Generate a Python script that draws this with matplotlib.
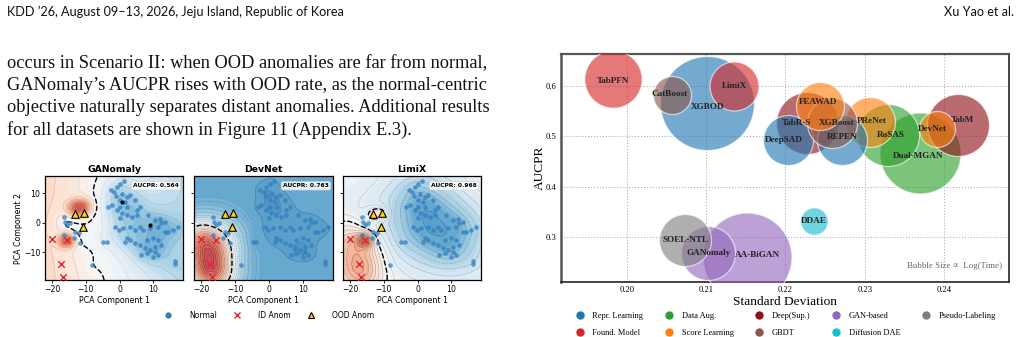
import numpy as np
import matplotlib
matplotlib.use("Agg")
import matplotlib.pyplot as plt
from matplotlib.lines import Line2D

# ---------------- data: left panels ----------------
normal_x = [-2.6, -1.6, -0.8, 0.2, 1.3, -1.0, 0.6, 2.1, 3.1, 1.6, 0.2, 4.6, 6.1, 5.1, 2.3, 0.2, -2.3, -3.3,
            -0.8, 0.6, 2.1, 3.6, 5.1, 0.0, 8.5, 10.5, 12.4, 13.4, 11.5, 9.0, 7.0, 6.1, 4.6, 3.1, 1.1, -0.3,
            -1.3, 17.4, 15.9, 13.4, 10.0, 8.0, 11.5, 12.4, 10.5, 9.0, 7.5, 6.1, 4.6, 3.1, 2.1, 10.5, 11.5,
            10.0, 16.4, 8.0, 6.5, -4.8, -3.8, -8.2, -16.6, -16.1, -15.6, -14.8, -16.6, -13.1, -12.1, -11.6,
            -13.6, 1.6, 12.0, 14.5, 16.5]
normal_y = [11.3, 10.5, 12.2, 13.3, 14.2, 9.0, 9.9, 8.8, 9.4, 7.1, 7.9, 7.7, 5.4, 4.3, 5.4, 5.4, 6.0, 5.4,
            4.3, 3.2, 2.6, 2.0, 2.6, 1.5, 2.6, 0.9, -0.2, 0.3, -1.4, -1.9, -2.5, -1.4, -2.5, -1.4, -1.9, -2.5,
            -1.4, -1.4, -2.5, -3.1, -5.3, -5.9, -5.9, -7.6, -8.1, -9.3, -8.7, -7.6, -7.0, -5.9, -5.3, -9.8,
            -11.0, -11.5, -13.8, -10.4, -11.0, -6.4, -6.4, -14.4, 2.0, 0.3, -0.8, -0.2, -4.2, -3.1, -3.6,
            -7.0, -5.3, -6.4, 1.2, -3.0, -13.0]
id_x = [-20.0, -15.6, -17.5, -16.9]
id_y = [-5.6, -5.9, -14.0, -18.3]
ood_x = [-13.1, -10.6, -10.9]
ood_y = [2.9, 3.5, -1.4]
flag_x = [0.6, 9.0]
flag_y = [7.1, -0.6]
panel_names = ["GANomaly", "DevNet", "LimiX"]
panel_aucpr = [0.564, 0.763, 0.968]

# ---------------- data: bubble chart ----------------
methods = ["TabPFN", "CatBoost", "XGBOD", "LimiX", "DeepSAD", "TabR-S", "FEAWAD", "XGBoost", "REPEN",
           "PReNet", "RoSAS", "DevNet", "TabM", "Dual-MGAN", "SOEL-NTL", "GANomaly", "AA-BiGAN", "DDAE"]
method_cat = ["Found. Model", "GBDT", "Repr. Learning", "Found. Model", "Repr. Learning", "Deep(Sup.)",
              "Score Learning", "GBDT", "Repr. Learning", "Score Learning", "Data Aug.", "Score Learning",
              "Deep(Sup.)", "Data Aug.", "Pseudo-Labeling", "GAN-based", "GAN-based", "Diffusion DAE"]
std_dev = [0.1983, 0.2057, 0.2101, 0.2135, 0.2203, 0.2227, 0.2244, 0.2259, 0.2271,
           0.2307, 0.2329, 0.2391, 0.2418, 0.2370, 0.2074, 0.2103, 0.2152, 0.2236]
aucpr = [0.614, 0.582, 0.566, 0.600, 0.492, 0.526, 0.560, 0.526, 0.492,
         0.528, 0.503, 0.514, 0.523, 0.4665, 0.2932, 0.2673, 0.2604, 0.3311]
bubble_size = [1708, 749, 4580, 1245, 1296, 1993, 1194, 1296, 1296,
               1296, 1993, 672, 1993, 3401, 1402, 1512, 4106, 389]
categories = ["Repr. Learning", "Found. Model", "Data Aug.", "Score Learning", "Deep(Sup.)", "GBDT",
              "GAN-based", "Diffusion DAE", "Pseudo-Labeling"]
cat_colors = {"Repr. Learning": "#1f77b4", "Found. Model": "#d62728", "Data Aug.": "#2ca02c",
              "Score Learning": "#ff7f0e", "Deep(Sup.)": "#8e1119", "GBDT": "#8c564b",
              "GAN-based": "#9467bd", "Diffusion DAE": "#17becf", "Pseudo-Labeling": "#7f7f7f"}
# label nudges (pixels, +x right, +y down)
label_dx = [0, -2, 1, 1, -4, -10, -2, 4, 1, 2, 3, -4, 4, -2, 0, 0, 10, 0]
label_dy = [2, -1, 4, 0, 0, 0, -4, 0, -3, -1, 0, 0, -5, 3, 0, 0, -2, 0]

W, H = 1021, 337
fig = plt.figure(figsize=(W / 100, H / 100), dpi=100)

def fx(px):
    return px / W

def fy(py):
    return 1 - py / H

# ---------------- page text ----------------
hdr_font = ["Lato", "DejaVu Sans"]
fig.text(fx(7), fy(16), "KDD \u201926, August 09\u201313, 2026, Jeju Island, Republic of Korea",
         family=hdr_font, fontsize=9.1, va="baseline", ha="left", color="#111")
fig.text(fx(1014), fy(16), "Xu Yao et al.", family=hdr_font, fontsize=9.1, va="baseline", ha="right",
         color="#111")
para = ["occurs in Scenario II: when OOD anomalies are far from normal,",
        "GANomaly\u2019s AUCPR rises with OOD rate, as the normal-centric",
        "objective naturally separates distant anomalies. Additional results",
        "for all datasets are shown in Figure 11 (Appendix E.3)."]
baselines = [68, 90.5, 112.5, 134.5]
for line, b in zip(para, baselines):
    fig.text(fx(7), fy(b), line, family=["Liberation Serif"], fontsize=13.25, va="baseline", ha="left",
             color="#111")

# ---------------- left panels ----------------
nx_arr = np.array(normal_x); ny_arr = np.array(normal_y)
ix_arr = np.array(id_x); iy_arr = np.array(id_y)
ox_arr = np.array(ood_x); oy_arr = np.array(ood_y)
xlim = (-22.1, 18.8)
ylim = (-19.4, 15.9)
gx = np.linspace(*xlim, 220)
gy = np.linspace(*ylim, 220)
GX, GY = np.meshgrid(gx, gy)

def kde(px, py, s):
    out = np.zeros_like(GX)
    for a, b in zip(px, py):
        out += np.exp(-((GX - a) ** 2 + (GY - b) ** 2) / (2 * s * s))
    return out / out.max()

Dn = kde(nx_arr, ny_arr, 2.2)
Dfar = kde(nx_arr, ny_arr, 5.0)
Dwide = kde(nx_arr, ny_arr, 7.0)
Did_one = kde(ix_arr[1:2], iy_arr[1:2], 1.8)
Did_big = kde(ix_arr, iy_arr, 5.0)
Dood = kde(ox_arr[:2], oy_arr[:2] + 2.0, 2.0)
Dood_pair = kde(ox_arr[:2], oy_arr[:2], 1.6)

fields = [
    -0.08 - 0.02 * GX - 0.35 * Dfar - 0.25 * Dn + 0.85 * Did_one + 0.9 * Dood,
    -0.85 - 0.15 * Dn + 2.1 * Did_big * (1 - 0.6 * Dfar),
    -0.12 - 0.75 * Dwide - 0.1 * Dn + 0.9 * Did_big * (1 - 0.8 * Dfar) + 0.5 * Dood_pair
    + 0.65 * Did_one,
]
line_alpha = [0.2, 0.42, 0.45]
line_levels = [14, 22, 20]

panel_px = [(45, 183), (194, 333), (343, 481)]
top_px, bot_px = 176, 280
for k, (l, r) in enumerate(panel_px):
    ax = fig.add_axes([fx(l), fy(bot_px), (r - l) / W, (bot_px - top_px) / H])
    S = fields[k]
    ax.contourf(GX, GY, S, levels=np.linspace(-1.5, 1.5, 41), cmap="RdBu_r", alpha=0.85, extend="both")
    ax.contour(GX, GY, S, levels=line_levels[k], colors="#2d4560", linewidths=0.35, alpha=line_alpha[k])
    ax.contour(GX, GY, S, levels=[0], colors="black", linewidths=1.0, linestyles="--")
    ax.scatter(nx_arr, ny_arr, s=11, color="#2f7fc1", alpha=0.75, linewidths=0, zorder=3)
    ax.scatter(ix_arr, iy_arr, s=22, marker="x", color="#e3262f", linewidths=1.0, zorder=4)
    ax.scatter(ox_arr, oy_arr, s=30, marker="^", facecolor="#ffd20a", edgecolor="black",
               linewidths=0.8, zorder=5)
    if k == 0:
        ax.scatter(flag_x, flag_y, s=4, color="black", zorder=5)
    ax.set_xlim(xlim); ax.set_ylim(ylim)
    ax.set_xticks([-20, -10, 0, 10]); ax.set_yticks([-10, 0, 10])
    ax.tick_params(labelsize=5.6, length=2, width=0.6, pad=1.5)
    for sp in ax.spines.values():
        sp.set_linewidth(0.9)
    ax.set_title(panel_names[k], fontsize=6.7, fontweight="bold", pad=3)
    ax.set_xlabel("PCA Component 1", fontsize=5.7, labelpad=1.5)
    if k == 0:
        ax.set_ylabel("PCA Component 2", fontsize=5.7, labelpad=0.5)
    else:
        ax.set_yticklabels([])
    ax.text(0.97, 0.93, f"AUCPR: {panel_aucpr[k]:.3f}", transform=ax.transAxes, ha="right", va="top",
            fontsize=4.3, fontweight="bold",
            bbox=dict(boxstyle="round,pad=0.3", facecolor="white", edgecolor="#cccccc", alpha=0.85,
                      linewidth=0.5))

left_handles = [
    Line2D([], [], marker="o", linestyle="", color="#2f7fc1", markersize=3.5, label="Normal"),
    Line2D([], [], marker="x", linestyle="", color="#e3262f", markersize=4.5, markeredgewidth=1.0,
           label="ID Anom"),
    Line2D([], [], marker="^", linestyle="", markerfacecolor="#ffd20a", markeredgecolor="black",
           markersize=5, markeredgewidth=0.8, label="OOD Anom"),
]
fig.legend(handles=left_handles, loc="center", bbox_to_anchor=(fx(267), fy(315)), ncol=3, frameon=False,
           fontsize=5.5, handletextpad=1.8, columnspacing=1.6)

# ---------------- bubble chart ----------------
serif = ["Liberation Serif", "DejaVu Serif"]
axb = fig.add_axes([fx(561), fy(282), 448 / W, 228 / H])
order = np.argsort(bubble_size)[::-1]
for i in order:
    axb.scatter(std_dev[i], aucpr[i], s=bubble_size[i], color=cat_colors[method_cat[i]], alpha=0.62,
                edgecolors="white", linewidths=0.9, zorder=3)
for i in range(len(methods)):
    axb.annotate(methods[i], (std_dev[i], aucpr[i]), xytext=(label_dx[i] * 0.72, -label_dy[i] * 0.72),
                 textcoords="offset points", ha="center", va="center", family=serif, fontsize=6.6,
                 fontweight="bold", color="#222222", zorder=5)
axb.set_xlim(0.1917, 0.2482)
axb.set_ylim(0.210, 0.664)
axb.set_xticks([0.20, 0.21, 0.22, 0.23, 0.24])
axb.set_yticks([0.3, 0.4, 0.5, 0.6])
axb.set_xticklabels(["0.20", "0.21", "0.22", "0.23", "0.24"])
axb.set_yticklabels(["0.3", "0.4", "0.5", "0.6"])
for lab in axb.get_xticklabels() + axb.get_yticklabels():
    lab.set_family(serif)
    lab.set_fontsize(6.2)
axb.tick_params(length=0, pad=3)
axb.grid(True, linestyle=":", color="#b0b0b0", linewidth=0.8, zorder=0)
axb.set_axisbelow(True)
for name, sp in axb.spines.items():
    sp.set_linewidth(1.2)
    sp.set_color("#222222")
axb.spines["left"].set_color("#555555"); axb.spines["left"].set_linewidth(1.8)
axb.spines["top"].set_color("#555555"); axb.spines["top"].set_linewidth(1.6)
axb.set_xlabel("Standard Deviation", family=serif, fontsize=9.6, labelpad=1)
axb.set_ylabel("AUCPR", family=serif, fontsize=9.6)
axb.yaxis.set_label_coords(-0.034, 0.5)
axb.text(0.985, 0.07, "Bubble Size \u221d  Log(Time)", transform=axb.transAxes, ha="right", va="center",
         family=serif, fontsize=6.4, color="#666666")

bub_handles = [Line2D([], [], marker="o", linestyle="", color=cat_colors[c], markersize=5, label=c)
               for c in categories]
fig.legend(handles=bub_handles, loc="upper center", bbox_to_anchor=(fx(786), fy(304)), ncol=5,
           frameon=False, prop={"family": serif, "size": 6.0}, handletextpad=1.0, columnspacing=2.6,
           labelspacing=1.15, handlelength=1.0)

fig.savefig("out.png", dpi=100)
